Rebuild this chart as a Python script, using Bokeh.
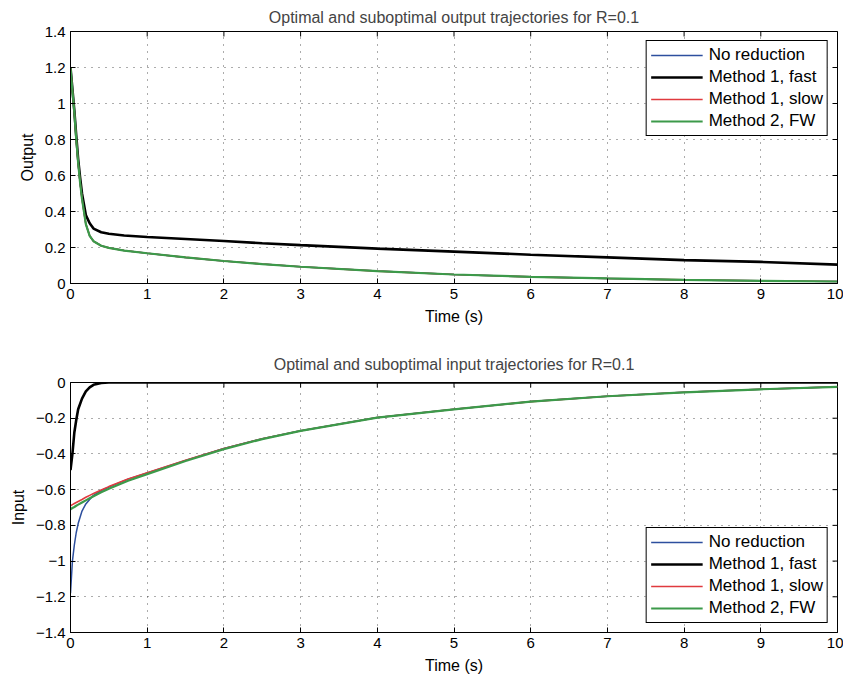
import math
from bokeh.plotting import figure
from bokeh.models import Range1d, FixedTicker, Legend, LegendItem
from bokeh.layouts import column
from bokeh.embed import file_html
from bokeh.resources import INLINE

# ---------------- data ----------------
x_ticks = [0, 1, 2, 3, 4, 5, 6, 7, 8, 9, 10]
x_tick_labels = ["0", "1", "2", "3", "4", "5", "6", "7", "8", "9", "10"]

out_ticks = [0, 0.2, 0.4, 0.6, 0.8, 1.0, 1.2, 1.4]
out_tick_labels = ["0", "0.2", "0.4", "0.6", "0.8", "1", "1.2", "1.4"]

in_ticks = [-1.4, -1.2, -1.0, -0.8, -0.6, -0.4, -0.2, 0]
in_tick_labels = ["\u22121.4", "\u22121.2", "\u22121", "\u22120.8", "\u22120.6", "\u22120.4", "\u22120.2", "0"]

series_names = ["No reduction", "Method 1, fast", "Method 1, slow", "Method 2, FW"]

# Output trajectories
t_out = [0, 0.025, 0.05, 0.075, 0.1, 0.125, 0.15, 0.2, 0.25, 0.3, 0.4, 0.5, 0.7,
         1, 1.5, 2, 2.5, 3, 4, 5, 6, 7, 8, 9, 10]
out_noreduction = [1.2, 1.07, 0.95, 0.80, 0.67, 0.56, 0.47, 0.33, 0.265, 0.235, 0.21, 0.198, 0.183,
                   0.168, 0.145, 0.125, 0.108, 0.093, 0.069, 0.05, 0.037, 0.028, 0.02, 0.015, 0.011]
out_fast = [1.2, 1.08, 0.96, 0.82, 0.69, 0.59, 0.50, 0.38, 0.335, 0.305, 0.285, 0.276, 0.267,
            0.258, 0.247, 0.236, 0.224, 0.213, 0.194, 0.177, 0.16, 0.145, 0.13, 0.12, 0.105]
out_slow = [1.2, 1.07, 0.95, 0.80, 0.67, 0.56, 0.47, 0.33, 0.265, 0.235, 0.21, 0.198, 0.183,
            0.168, 0.145, 0.125, 0.108, 0.093, 0.069, 0.05, 0.037, 0.028, 0.02, 0.015, 0.011]
out_fw = [1.2, 1.07, 0.95, 0.80, 0.67, 0.56, 0.47, 0.33, 0.265, 0.235, 0.21, 0.198, 0.183,
          0.168, 0.145, 0.125, 0.108, 0.093, 0.069, 0.05, 0.037, 0.028, 0.02, 0.015, 0.011]

# Input trajectories
t_in = [0, 0.025, 0.05, 0.075, 0.1, 0.15, 0.2, 0.25, 0.3, 0.4, 0.5, 0.75,
        1, 1.5, 2, 2.5, 3, 4, 5, 6, 7, 8, 9, 10]
in_noreduction = [-1.18, -1.0, -0.91, -0.84, -0.79, -0.72, -0.68, -0.655, -0.632, -0.605, -0.586, -0.541,
                  -0.506, -0.436, -0.37, -0.315, -0.27, -0.196, -0.15, -0.107, -0.077, -0.055, -0.038, -0.024]
in_fast = [-0.49, -0.40, -0.28, -0.21, -0.15, -0.09, -0.05, -0.027, -0.013, -0.003, 0, 0,
           0, 0, 0, 0, 0, 0, 0, 0, 0, 0, 0, 0]
in_slow = [-0.69, -0.684, -0.678, -0.672, -0.666, -0.655, -0.643, -0.632, -0.622, -0.602, -0.583, -0.54,
           -0.505, -0.435, -0.37, -0.315, -0.27, -0.196, -0.15, -0.107, -0.077, -0.055, -0.038, -0.024]
in_fw = [-0.71, -0.703, -0.697, -0.69, -0.684, -0.672, -0.66, -0.648, -0.637, -0.615, -0.595, -0.55,
         -0.513, -0.44, -0.373, -0.317, -0.271, -0.197, -0.15, -0.107, -0.077, -0.055, -0.038, -0.024]

# ---------------- styling ----------------
FONT = "Liberation Sans"
COLORS = ["#2d4f9e", "#000000", "#e03a3e", "#3c9a4a"]
WIDTHS = [1.5, 2.6, 1.6, 2.2]


def make_fig(title, ylabel, y_start, y_end, y_ticks, y_labels, t, ys,
             legend_loc, top_border, bottom_border, frame_h, title_standoff):
    p = figure(frame_width=767, frame_height=frame_h,
               x_range=Range1d(0, 10), y_range=Range1d(y_start, y_end),
               output_backend="svg", toolbar_location=None,
               min_border_left=70, min_border_right=6,
               min_border_top=top_border, min_border_bottom=bottom_border,
               title=title)
    p.title.text_font = FONT
    p.title.text_font_size = "16px"
    p.title.text_font_style = "normal"
    p.title.align = "center"
    p.title.standoff = title_standoff
    p.outline_line_color = "black"
    p.outline_line_width = 1

    p.xaxis.ticker = FixedTicker(ticks=x_ticks)
    p.xaxis.major_label_overrides = {float(v): s for v, s in zip(x_ticks, x_tick_labels)}
    p.yaxis.ticker = FixedTicker(ticks=y_ticks)
    p.yaxis.major_label_overrides = {float(v): s for v, s in zip(y_ticks, y_labels)}
    p.xaxis.axis_label = "Time (s)"
    p.yaxis.axis_label = ylabel
    for ax in (p.xaxis[0], p.yaxis[0]):
        ax.axis_line_color = "black"
        ax.major_tick_in = 5
        ax.major_tick_out = 0
        ax.minor_tick_in = 0
        ax.minor_tick_out = 0
        ax.major_label_text_font = FONT
        ax.major_label_text_font_size = "15px"
        ax.major_label_text_color = "black"
        ax.axis_label_text_font = FONT
        ax.axis_label_text_font_size = "16px"
        ax.axis_label_text_font_style = "normal"
        ax.axis_label_text_color = "black"
        ax.major_label_standoff = 5
        ax.axis_label_standoff = 6

    for grid, ticks in ((p.xgrid[0], x_ticks), (p.ygrid[0], y_ticks)):
        grid.ticker = FixedTicker(ticks=ticks)
        grid.grid_line_color = "#222222"
        grid.grid_line_alpha = 0.75
        grid.grid_line_dash = "1 6"
        grid.grid_line_width = 1

    # inward tick marks on the top and right edges of the box
    p.scatter(x_ticks, [y_end] * len(x_ticks), marker="dash", angle=math.pi / 2,
              size=10, line_color="black", line_width=1)
    p.scatter([10] * len(y_ticks), y_ticks, marker="dash",
              size=10, line_color="black", line_width=1)

    renderers = []
    for y, c, w in zip(ys, COLORS, WIDTHS):
        r = p.line(t, y, line_color=c, line_width=w)
        renderers.append(r)

    legend = Legend(items=[LegendItem(label=n, renderers=[r]) for n, r in zip(series_names, renderers)],
                    location=legend_loc)
    legend.label_text_font = FONT
    legend.label_text_font_size = "17px"
    legend.label_text_color = "black"
    legend.border_line_color = "black"
    legend.border_line_width = 1
    legend.border_line_alpha = 1
    legend.background_fill_color = "white"
    legend.background_fill_alpha = 1
    legend.glyph_width = 52
    legend.glyph_height = 18
    legend.label_height = 18
    legend.label_standoff = 6
    legend.spacing = 2
    legend.padding = 4
    legend.margin = 9
    p.add_layout(legend)
    return p


p1 = make_fig("Optimal and suboptimal output trajectories for R=0.1", "Output",
              0, 1.4, out_ticks, out_tick_labels, t_out,
              [out_noreduction, out_fast, out_slow, out_fw], "top_right", 31, 48, 252, 12)
p2 = make_fig("Optimal and suboptimal input trajectories for R=0.1", "Input",
              -1.4, 0, in_ticks, in_tick_labels, t_in,
              [in_noreduction, in_fast, in_slow, in_fw], "bottom_right", 51, 38, 250, 20)

layout = column(p1, p2, spacing=0)
open("out.html", "w").write(file_html(layout, INLINE))
